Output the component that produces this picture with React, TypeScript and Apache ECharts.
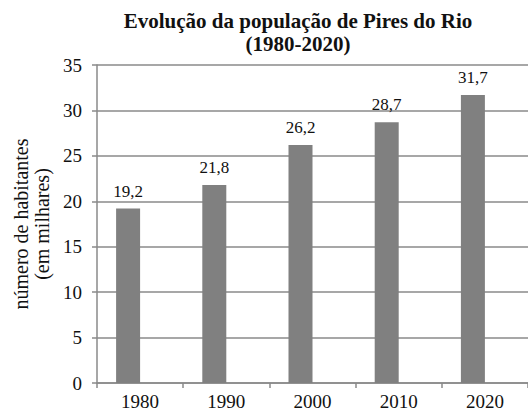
import React, { useEffect, useRef } from "react";
import * as echarts from "echarts";

const years = ["1980", "1990", "2000", "2010", "2020"];
const population = [19.2, 21.8, 26.2, 28.7, 31.7];
const emptySeries = [null, null, null, null, null];
const titleLines = ["Evolução da população de Pires do Rio", "(1980-2020)"];
const yAxisName = "número de habitantes\n(em milhares)";

const FONT = "Liberation Serif";
const GRID_COLOR = "#8a8a8a";

export default function App() {
  const ref = useRef<HTMLDivElement>(null);
  useEffect(() => {
    if (!ref.current) return;
    const chart = echarts.init(ref.current, undefined, { renderer: "svg" });
    chart.setOption({
      animation: false,
      backgroundColor: "#ffffff",
      textStyle: { fontFamily: FONT },
      graphic: [
        {
          type: "text",
          x: 298,
          y: 9,
          style: {
            text: titleLines.join("\n"),
            textAlign: "center",
            fontFamily: FONT,
            fontWeight: "bold",
            fontSize: 21,
            lineHeight: 23,
            fill: "#111",
          },
        },
      ],
      grid: { left: 97, top: 65, right: 0, bottom: 31, containLabel: false },
      xAxis: {
        type: "category",
        data: years,
        boundaryGap: true,
        axisLine: { lineStyle: { color: GRID_COLOR, width: 1.5 } },
        axisTick: { show: true, interval: 0, length: 5, lineStyle: { color: GRID_COLOR, width: 1.5 } },
        axisLabel: { color: "#111", fontSize: 19, fontFamily: FONT, margin: 9, interval: 0 },
      },
      yAxis: {
        type: "value",
        min: 0,
        max: 35,
        interval: 5,
        name: yAxisName,
        nameLocation: "middle",
        nameGap: 44,
        nameRotate: 90,
        nameTextStyle: { color: "#111", fontSize: 20, fontFamily: FONT, lineHeight: 21 },
        axisLine: { show: true, lineStyle: { color: GRID_COLOR, width: 1.5 } },
        axisTick: { show: true, length: 5, lineStyle: { color: GRID_COLOR, width: 1.5 } },
        axisLabel: { color: "#111", fontSize: 19, fontFamily: FONT, margin: 15 },
        splitLine: { show: true, lineStyle: { color: GRID_COLOR, width: 1.5 } },
      },
      series: [
        {
          type: "bar",
          data: population,
          barWidth: 24,
          barGap: "0%",
          itemStyle: { color: "#808080" },
          label: {
            show: true,
            position: "top",
            distance: 9,
            color: "#111",
            fontSize: 17,
            fontFamily: FONT,
            formatter: (p: any) => String(p.value).replace(".", ","),
          },
        },
        {
          type: "bar",
          data: emptySeries,
          barWidth: 24,
          barGap: "0%",
          itemStyle: { color: "#808080" },
        },
      ],
    });
    return () => chart.dispose();
  }, []);
  return (
    <div
      ref={ref}
      style={{ position: "fixed", left: 0, top: 0, width: 528, height: 414 }}
    />
  );
}
